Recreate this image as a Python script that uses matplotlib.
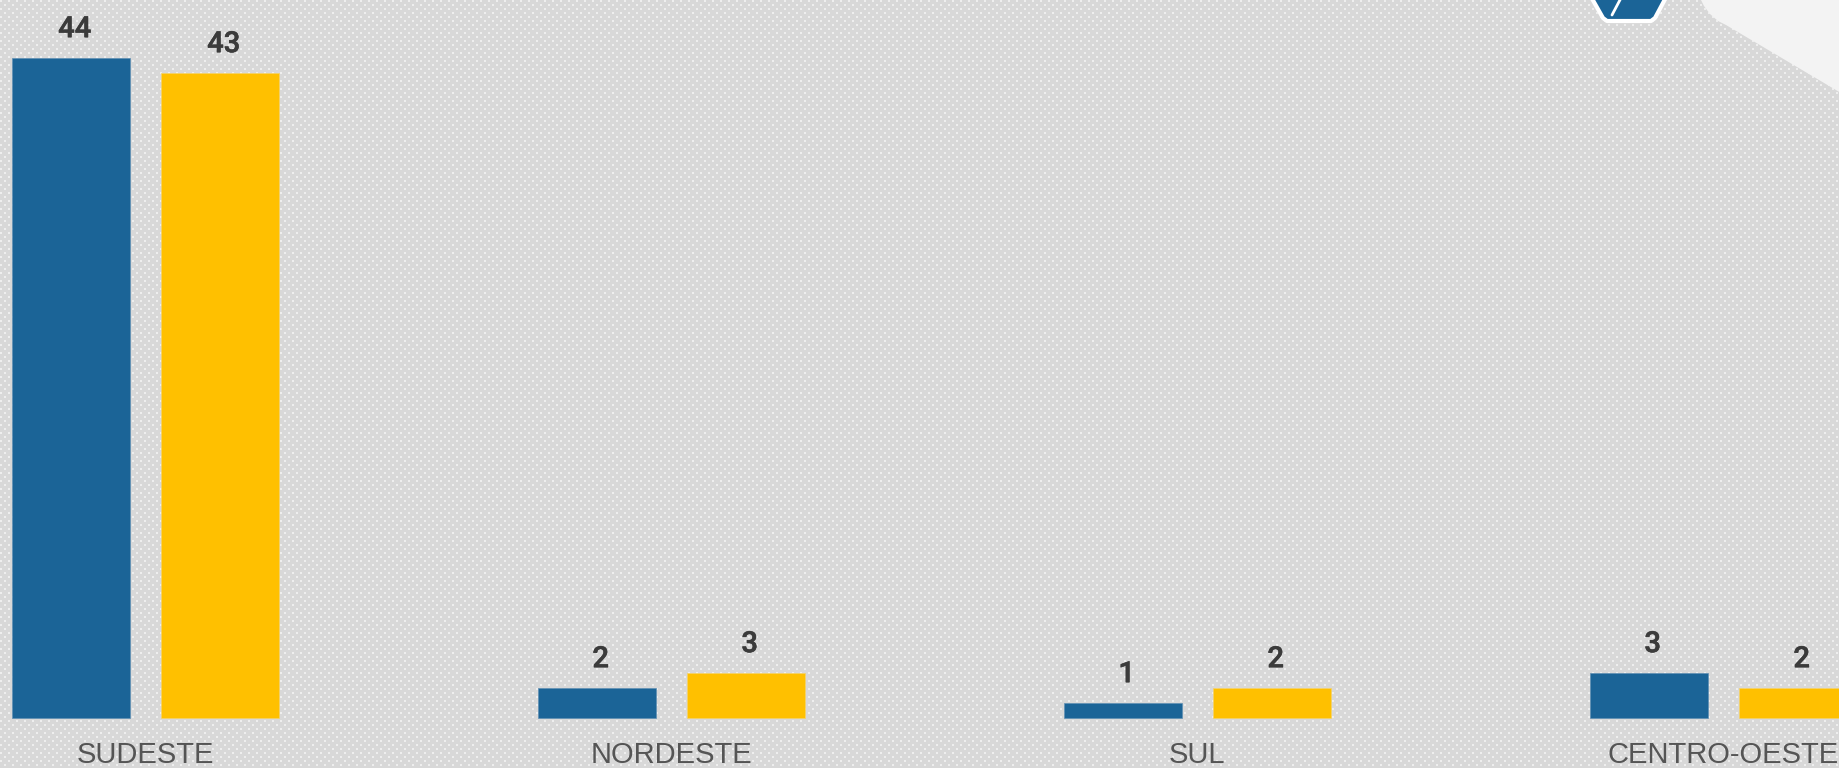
import numpy as np
import matplotlib
matplotlib.use("Agg")
import matplotlib.pyplot as plt
from matplotlib.patches import Polygon
import matplotlib.patheffects as pe

# dados
regioes = ["SUDESTE", "NORDESTE", "SUL", "CENTRO-OESTE"]
serie_azul = [44, 2, 1, 3]
serie_amarela = [43, 3, 2, 2]

AZUL = "#1b6497"
AMARELO = "#ffc000"

W, H = 1839, 768
fig = plt.figure(figsize=(W / 100, H / 100), dpi=100)
fig.patch.set_visible(False)

# fundo cinza pontilhado
bg = np.full((H, W, 3), 216, dtype=np.uint8)
for r in range(0, H, 4):
    off = 0 if (r // 4) % 2 == 0 else 4
    for c in range(off, W, 8):
        bg[r:r + 2, c:c + 2] = 238
fig.figimage(bg, xo=0, yo=0, zorder=-1, origin="upper")


def px(pts):
    # pixels (a partir do topo) -> fracao da figura
    return [(x / W, 1 - y / H) for x, y in pts]


# canto claro no alto a direita
canto = Polygon(px([(1700, -2), (1704, 6), (1710, 14), (1718, 21), (1726, 25),
                    (1841, 93), (1841, -2)]),
                closed=True, transform=fig.transFigure, facecolor="#f3f3f3",
                edgecolor="none")
fig.patches.append(canto)

# pedaco do logo
logo = Polygon(px([(1586, -12), (1603, 18), (1607, 21), (1651, 21), (1655, 18),
                   (1671, -12)]),
               closed=True, transform=fig.transFigure, facecolor=AZUL,
               edgecolor="white", linewidth=3, joinstyle="round")
fig.patches.append(logo)
fig.lines.append(plt.Line2D([1621 / W, 1612 / W], [1 + 2 / H, 1 - 15 / H],
                            transform=fig.transFigure, color="white",
                            linewidth=2.0, solid_capstyle="round"))

ax = fig.add_axes([0, 0, 1, 1])
ax.patch.set_visible(False)
ax.axis("off")

passo = 526.0   # px entre grupos
escala = 15.0   # px por unidade
ax.set_xlim(-145 / passo, (W - 145) / passo)
ax.set_ylim(-50 / escala, (H - 50) / escala)

x = np.arange(len(regioes))
larg = 118 / passo
desl = 74.5 / passo

b1 = ax.bar(x - desl, serie_azul, width=larg, color=AZUL, edgecolor="#5f8fb3",
            linewidth=0.5)
b2 = ax.bar(x + desl, serie_amarela, width=larg, color=AMARELO,
            edgecolor="#f5d36b", linewidth=0.5)

for barras, vals in [(b1, serie_azul), (b2, serie_amarela)]:
    for b, v in zip(barras, vals):
        ax.annotate(str(v), (b.get_x() + b.get_width() / 2, v),
                    xytext=(3, 15), textcoords="offset points",
                    ha="center", va="baseline", fontsize=21,
                    family="Roboto", fontweight="medium", color="#3b3b3b",
                    path_effects=[pe.withStroke(linewidth=0.4,
                                                foreground="#3b3b3b")])

for i, nome in enumerate(regioes):
    ax.text(i, -45 / escala, nome, ha="center", va="baseline", fontsize=21,
            family="Liberation Sans", color="#555555")

fig.savefig("out.png", dpi=100)
